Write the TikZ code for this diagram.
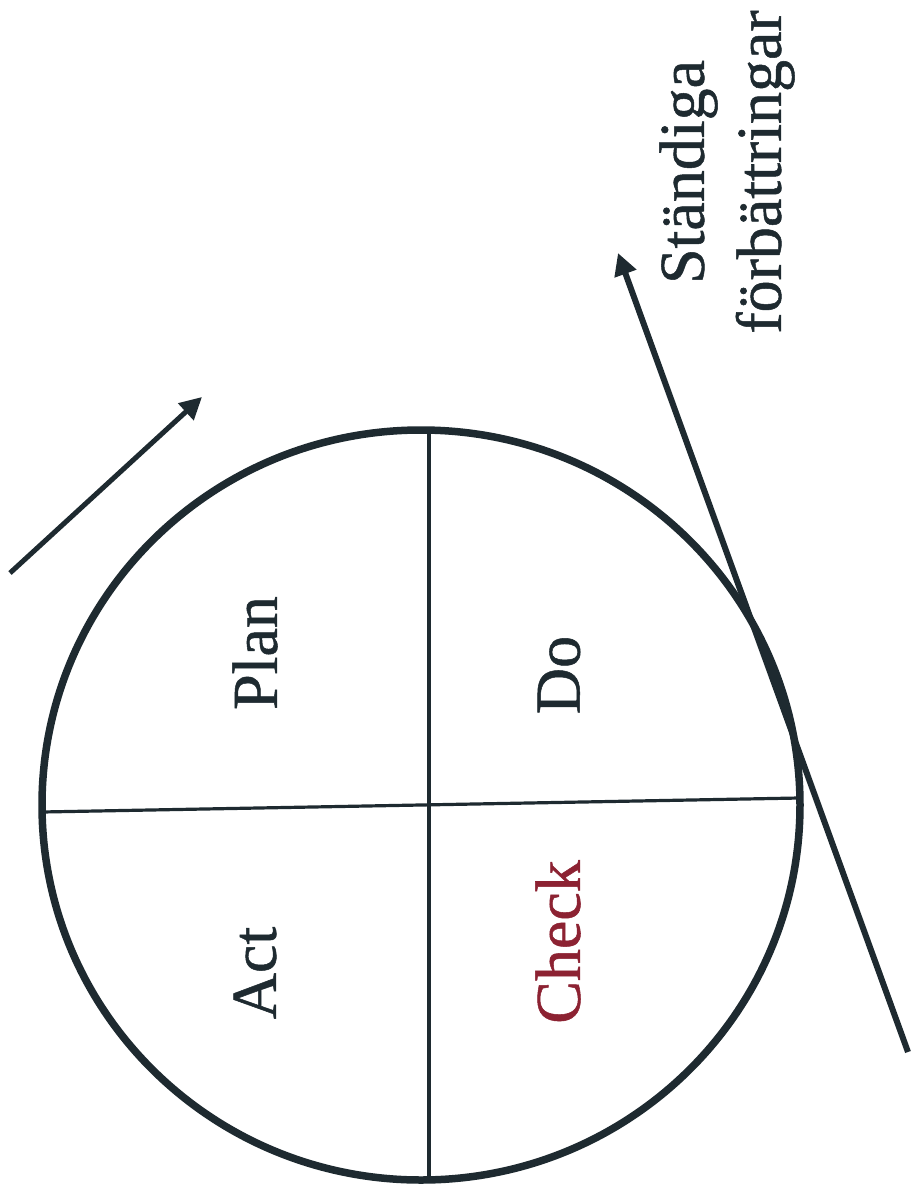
\documentclass[tikz,border=0pt]{standalone}
\usepackage{fontspec}
\setmainfont{Liberation Serif}[FakeBold=0.8]
\usetikzlibrary{arrows.meta,shapes.geometric}
\definecolor{ink}{HTML}{1E2A30}
\definecolor{checkred}{HTML}{8C2232}
\begin{document}
\begin{tikzpicture}[x=1pt,y=-1pt,
  lbl/.style={rotate=90,inner sep=0pt,text=ink,font=\fontsize{64}{77}\selectfont},
  divider/.style={draw=ink,line width=3.2pt},
  rim/.style={draw=ink,line width=7.5pt},
  flow/.style={draw=ink,line width=5pt,-{Triangle[length=22pt,width=22pt]}}]
\useasboundingbox[fill=white] (0,0) rectangle (912,1200);
% divider end points
\coordinate (top) at (429,430);
\coordinate (bottom) at (429,1180);
\coordinate (left) at (42,812);
\coordinate (right) at (799,798);
\draw[divider] (top) -- (bottom);
\draw[divider] (left) -- (right);
\node[rim,ellipse,minimum width=758pt,minimum height=750pt,inner sep=0pt] (cycle) at (421,805) {};
% labels
\node[lbl] (plan) at (255,653) {Plan};
\node[lbl] (do) at (559,675) {Do};
\node[lbl] (act) at (255,973) {Act};
\node[lbl,text=checkred] (check) at (558,942) {Check};
\node[lbl,align=center] (improve) at (727,172) {Ständiga\\förbättringar};
% arrows
\coordinate (a1s) at (10,573);
\coordinate (a1e) at (202,397);
\draw[flow] (a1s) -- (a1e);
\coordinate (a2s) at (908,1052);
\coordinate (a2e) at (618,253);
\draw[flow,line width=6pt] (a2s) -- (a2e);
\end{tikzpicture}
\end{document}
